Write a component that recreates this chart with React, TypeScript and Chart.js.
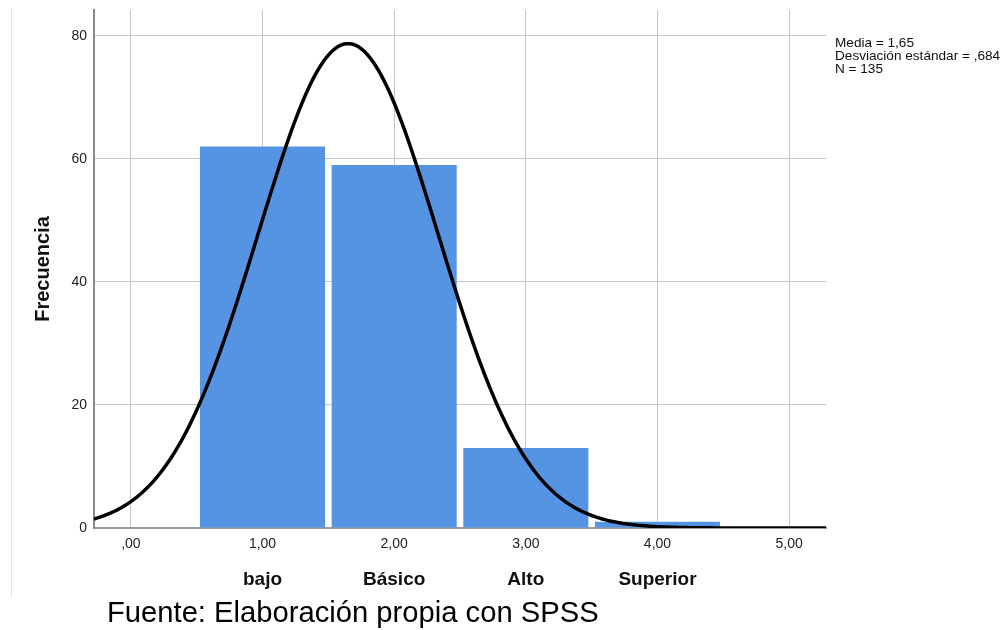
import { useEffect, useRef } from "react";
import { Chart, registerables } from "chart.js";

Chart.register(...registerables);

// ---- data ----
const categories = ["bajo", "Básico", "Alto", "Superior"];
const binCenters = [1, 2, 3, 4];
const frequencies = [62, 59, 13, 1];
const xTickValues = [0, 1, 2, 3, 4, 5];
const yTickValues = [0, 20, 40, 60, 80];
const statsLines = ["Media = 1,65", "Desviación estándar = ,684", "N = 135"];
const meanValue = 1.65;
const sdValue = 0.684;
const nValue = 135;
const binWidth = 1;
const xMin = -0.28;
const xMax = 5.28;
const yMax = 84.2;
const yTitle = "Frecuencia";
const footerText = "Fuente: Elaboración propia con SPSS";

// fitted normal curve (defined by the stated Media / Desviación estándar / N)
const curveXs: number[] = [];
for (let i = 0; i <= 278; i++) curveXs.push(xMin + ((xMax - xMin) * i) / 278);
const normalCurve = curveXs.map((x) => ({
  x,
  y:
    (nValue * binWidth) / (sdValue * Math.sqrt(2 * Math.PI)) *
    Math.exp(-0.5 * ((x - meanValue) / sdValue) ** 2),
}));

const fmtX = (v: number) => {
  const s = v.toFixed(2).replace(".", ",");
  return s.startsWith("0,") ? s.slice(1) : s;
};

const FONT = "'Liberation Sans', Arial, sans-serif";

const overlayPlugin = {
  id: "overlay",
  afterDraw(chart: any) {
    const ctx = chart.ctx as CanvasRenderingContext2D;
    const xs = chart.scales.x;
    const area = chart.chartArea;
    ctx.save();
    // faint frame line at left
    ctx.strokeStyle = "#dce8f8";
    ctx.lineWidth = 1;
    ctx.beginPath();
    ctx.moveTo(11.5, 8);
    ctx.lineTo(11.5, 598);
    ctx.stroke();

    // stats text
    ctx.fillStyle = "#111";
    ctx.font = `13.6px ${FONT}`;
    ctx.textAlign = "left";
    ctx.textBaseline = "middle";
    statsLines.forEach((t, i) => ctx.fillText(t, 835, 43 + i * 13));

    // y title
    ctx.save();
    ctx.translate(43, (area.top + area.bottom) / 2);
    ctx.rotate(-Math.PI / 2);
    ctx.font = `bold 20px ${FONT}`;
    ctx.textAlign = "center";
    ctx.textBaseline = "middle";
    ctx.fillText(yTitle, 0, 0);
    ctx.restore();

    // category labels
    ctx.font = `bold 19px ${FONT}`;
    ctx.textAlign = "center";
    ctx.textBaseline = "middle";
    categories.forEach((c, i) => {
      ctx.fillText(c, xs.getPixelForValue(binCenters[i]), 580);
    });

    // footer
    ctx.font = `29.2px ${FONT}`;
    ctx.textAlign = "left";
    ctx.textBaseline = "alphabetic";
    ctx.fillStyle = "#000";
    ctx.fillText(footerText, 107, 622);
    ctx.restore();
  },
};

export default function App() {
  const ref = useRef<HTMLCanvasElement>(null);
  useEffect(() => {
    if (!ref.current) return;
    const chart = new Chart(ref.current, {
      type: "bar",
      data: {
        datasets: [
          {
            type: "line",
            data: normalCurve,
            borderColor: "#000",
            borderWidth: 3.5,
            pointRadius: 0,
            tension: 0,
            order: 1,
          } as any,
          {
            type: "bar",
            data: binCenters.map((x, i) => ({ x, y: frequencies[i] })),
            backgroundColor: "rgb(85,147,227)",
            borderWidth: 0,
            barPercentage: 0.95,
            categoryPercentage: 1,
            order: 2,
          } as any,
        ],
      },
      options: {
        animation: false,
        responsive: false,
        events: [],
        layout: { padding: { left: 0, top: 10, right: 180, bottom: 62 } },
        plugins: { legend: { display: false }, tooltip: { enabled: false } },
        scales: {
          x: {
            type: "linear",
            offset: false,
            min: xMin,
            max: xMax,
            afterFit: (s: any) => {
              s.height = 40;
              s.paddingLeft = 0;
              s.paddingRight = 0;
            },
            afterBuildTicks: (s: any) => {
              s.ticks = xTickValues.map((v) => ({ value: v }));
            },
            ticks: {
              includeBounds: false,
              padding: 8,
              color: "#222",
              font: { family: FONT, size: 14 },
              callback: (v: any) => fmtX(Number(v)),
              maxRotation: 0,
              autoSkip: false,
            },
            grid: { color: "#c6c6c6", lineWidth: 1, drawTicks: false, offset: false },
            border: { color: "#9a9a9a", width: 2 },
          },
          y: {
            type: "linear",
            min: 0,
            max: yMax,
            afterFit: (s: any) => {
              s.width = 94;
              s.paddingTop = 0;
              s.paddingBottom = 0;
            },
            afterBuildTicks: (s: any) => {
              s.ticks = yTickValues.map((v) => ({ value: v }));
            },
            ticks: {
              includeBounds: false,
              padding: 7,
              color: "#222",
              font: { family: FONT, size: 14 },
              callback: (v: any) => String(v),
            },
            grid: { color: "#c6c6c6", lineWidth: 1, drawTicks: false },
            border: { color: "#8a8a8a", width: 2 },
          },
        },
      } as any,
      plugins: [overlayPlugin],
    });
    return () => chart.destroy();
  }, []);
  return (
    <div style={{ position: "absolute", left: 0, top: 0, width: 1006, height: 630, background: "#fff" }}>
      <canvas ref={ref} width={1006} height={630} style={{ display: "block" }} />
    </div>
  );
}
